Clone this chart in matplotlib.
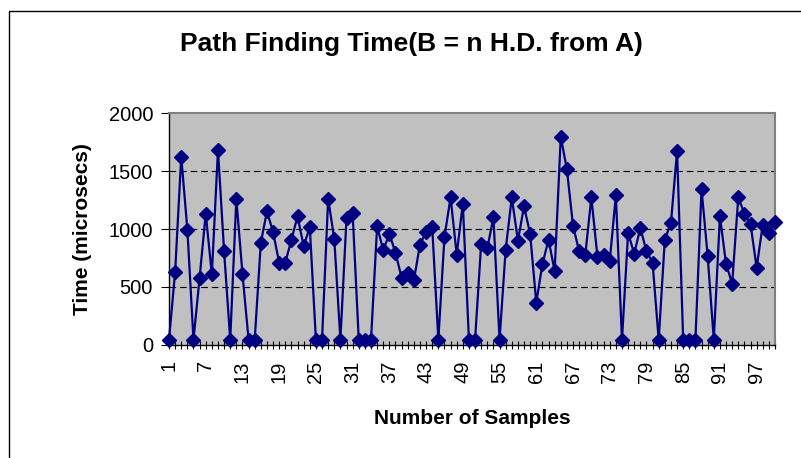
import numpy as np
import matplotlib
matplotlib.use('Agg')
import matplotlib.pyplot as plt
from matplotlib.patches import Rectangle

plt.rcParams['font.family'] = ['Liberation Sans', 'DejaVu Sans']

# path finding times, one per sample (1..100)
samples = np.arange(1, 101)
times = [
    45, 629, 1624, 995, 45, 580, 1132, 609, 1681, 809,
    45, 1261, 615, 45, 45, 881, 1152, 975, 709, 709,
    909, 1109, 852, 1015, 45, 45, 1261, 915, 45, 1095,
    1138, 45, 45, 45, 1023, 818, 958, 795, 580, 623,
    557, 866, 975, 1015, 45, 932, 1272, 780, 1218, 45,
    45, 875, 832, 1101, 45, 823, 1272, 900, 1195, 958,
    366, 695, 909, 637, 1795, 1515, 1029, 809, 775, 1272,
    758, 775, 723, 1289, 45, 966, 786, 1009, 809, 709,
    45, 909, 1052, 1672, 45, 45, 45, 1344, 766, 45,
    1109, 701, 529, 1272, 1132, 1044, 666, 1038, 966, 1061,
]
xtick_labels = list(range(1, 101, 6))
yticks = [0, 500, 1000, 1500, 2000]

W, H = 801, 458
fig = plt.figure(figsize=(W / 100, H / 100), dpi=100)

# chart area frame (cropped: only left and top edges visible)
fig.patches.append(Rectangle((9 / W, -0.1), 1.2, 1 - 11 / H + 0.1,
                             transform=fig.transFigure, fill=False,
                             edgecolor='black', linewidth=1.0))

ax = fig.add_axes([169 / W, 1 - 345 / H, (775 - 169) / W, (345 - 113) / H])
ax.set_facecolor('#C0C0C0')

ax.plot(samples, times, color='#000080', linewidth=1.6,
        marker='D', markersize=7.5, clip_on=False, zorder=3)

ax.set_xlim(1, 100)
ax.set_ylim(0, 2000)
ax.set_yticks(yticks)
ax.set_xticks(xtick_labels)
ax.set_xticklabels([str(v) for v in xtick_labels], rotation=90)
ax.set_xticks(samples, minor=True)

for y in yticks[1:-1]:
    ax.axhline(y, color='black', linewidth=0.8, linestyle=(0, (6, 3.5)), zorder=1)

ax.tick_params(axis='y', direction='out', length=5.5, width=0.8,
               labelsize=14.5, pad=6)
ax.tick_params(axis='x', which='both', direction='inout', length=6, width=0.8,
               labelsize=14.5, pad=8)

for s in ['left', 'bottom']:
    ax.spines[s].set_color('black')
    ax.spines[s].set_linewidth(1.0)
for s in ['top', 'right']:
    ax.spines[s].set_color('#808080')
    ax.spines[s].set_linewidth(1.5)

fig.text(411 / W, 1 - 44 / H, 'Path Finding Time(B = n H.D. from A)',
         ha='center', va='center', fontsize=19, fontweight='bold')
fig.text(83 / W, 1 - 229 / H, 'Time (microsecs)', rotation=90,
         ha='center', va='center', fontsize=15, fontweight='bold')
fig.text(472 / W, 1 - 419 / H, 'Number of Samples',
         ha='center', va='center', fontsize=15, fontweight='bold')

fig.savefig('out.png', dpi=100)
